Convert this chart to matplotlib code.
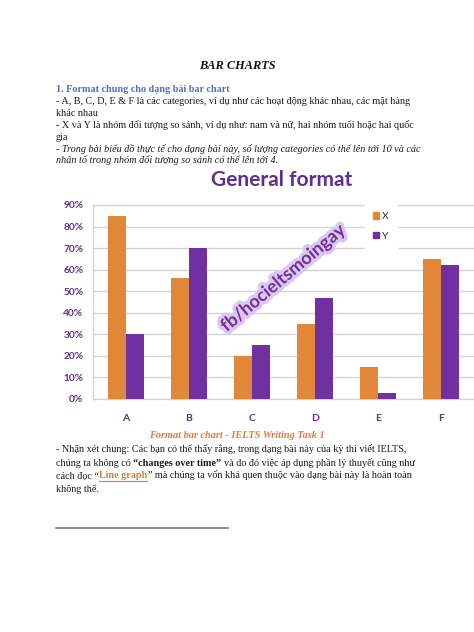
import matplotlib
matplotlib.use("Agg")
import matplotlib.pyplot as plt
import matplotlib.patheffects as pe
from matplotlib.lines import Line2D
from matplotlib.patches import Patch
import numpy as np

categories = ["A", "B", "C", "D", "E", "F"]
x_values = [85, 56, 20, 35, 15, 65]
y_values = [30, 70, 25, 47, 3, 62]
series_names = ["X", "Y"]
y_ticks = [0, 10, 20, 30, 40, 50, 60, 70, 80, 90]

W, H = 474, 632
fig = plt.figure(figsize=(W / 100, H / 100), dpi=100)
fig.patch.set_facecolor("white")

ORANGE = "#E0873A"
PURPLE = "#7030A0"
TXT_PURPLE = "#5E2F92"
SERIF = ["Liberation Serif", "DejaVu Serif"]
SANS = ["Lato", "DejaVu Sans"]
FS = 7.25


def fx(px):
    return px / W


def fy(py):
    return 1 - py / H


# ---- chart ----
ax = fig.add_axes([fx(93), fy(399), fx(474) - fx(93), fy(205) - fy(399)])
idx = np.arange(len(categories))
bw = 0.286
ax.bar(idx - bw / 2, x_values, bw, color=ORANGE, zorder=3, label=series_names[0])
ax.bar(idx + bw / 2, y_values, bw, color=PURPLE, zorder=3, label=series_names[1])
ax.set_xlim(-0.52, 5.52)
ax.set_ylim(0, 90)
ax.set_yticks(y_ticks)
ax.set_yticklabels([f"{v}%" for v in y_ticks])
ax.set_xticks(idx)
ax.set_xticklabels(categories)
ax.grid(axis="y", color="#D4D4D4", linewidth=1.0, zorder=0)
ax.spines["right"].set_visible(False)
for s in ["left", "bottom", "top"]:
    ax.spines[s].set_color("#D4D4D4")
    ax.spines[s].set_linewidth(1.0)
ax.tick_params(axis="both", length=0)
ax.tick_params(axis="y", pad=7)
ax.tick_params(axis="x", pad=11)
for lab in ax.get_yticklabels():
    lab.set_fontfamily(SANS)
    lab.set_fontweight("bold")
    lab.set_fontsize(7.3)
    lab.set_color(TXT_PURPLE)
for lab in ax.get_xticklabels():
    lab.set_fontfamily(SANS)
    lab.set_fontweight("bold")
    lab.set_fontsize(7.5)
    lab.set_color(TXT_PURPLE)

handles = [Patch(color=ORANGE), Patch(color=PURPLE)]
leg = ax.legend(handles, series_names, loc="center", bbox_to_anchor=(0.755, 0.89),
                frameon=True, fancybox=False, edgecolor="white", facecolor="white",
                framealpha=1, handlelength=0.55, handleheight=0.55, handletextpad=0.3,
                labelspacing=1.0, borderpad=0.8, prop={"family": SANS, "size": 7.5})
for t in leg.get_texts():
    t.set_color("#2A2A2A")

fig.text(fx(282), fy(180), "General format", family=SANS, fontweight="bold",
         fontsize=15, color=TXT_PURPLE, ha="center", va="center")

fig.text(fx(283), fy(278), "fb/hocieltsmoingay", family=SANS, fontweight="bold",
         fontsize=13, color=PURPLE, ha="center", va="center", rotation=40,
         rotation_mode="anchor", zorder=10,
         path_effects=[pe.withStroke(linewidth=5, foreground="#DCC8EE")])

# ---- document text ----
fig.canvas.draw()
renderer = fig.canvas.get_renderer()

BODY = dict(family=SERIF, fontsize=FS, color="#1A1A1A")
IT = dict(BODY, style="italic")
BOLD = dict(BODY, fontweight="bold")

fig.text(fx(237), fy(69), "BAR CHARTS", family=SERIF, fontweight="bold", style="italic",
         fontsize=8.9, color="#111111", ha="center", va="baseline")
fig.text(fx(56), fy(92), "1. Format chung cho dạng bài bar chart", family=SERIF,
         fontweight="bold", fontsize=FS, color="#4A6FD0", ha="left", va="baseline")

lines_top = [
    ("- A, B, C, D, E & F là các categories, ví dụ như các hoạt động khác nhau, các mặt hàng", BODY, 104),
    ("khác nhau", BODY, 115.8),
    ("- X và Y là nhóm đối tượng so sánh, ví dụ như: nam và nữ, hai nhóm tuổi hoặc hai quốc", BODY, 127.8),
    ("gia", BODY, 139.6),
    ("- Trong bài biểu đồ thực tế cho dạng bài này, số lượng categories có thể lên tới 10 và các", IT, 151.5),
    ("nhân tố trong nhóm đối tượng so sánh có thể lên tới 4.", IT, 163.3),
]
for s, kw, y in lines_top:
    fig.text(fx(56), fy(y), s, ha="left", va="baseline", **kw)

fig.text(fx(237), fy(438.5), "Format bar chart - IELTS Writing Task 1", family=SERIF,
         fontweight="bold", style="italic", fontsize=7.4, color="#E07B39",
         ha="center", va="baseline")

fig.text(fx(56), fy(452.5),
         "- Nhận xét chung: Các bạn có thể thấy rằng, trong dạng bài này của kỳ thi viết IELTS,",
         ha="left", va="baseline", **BODY)

# line 2 with bold run
t1 = fig.text(fx(56), fy(465.5), "chúng ta không có", ha="left", va="baseline", **BODY)
bb = t1.get_window_extent(renderer)
t2 = fig.text(bb.x1 / W + 2.4 / W, fy(465.5), "\u201cchanges over time\u201d", ha="left",
              va="baseline", **BOLD)
bb = t2.get_window_extent(renderer)
fig.text(bb.x1 / W + 2.4 / W, fy(465.5),
         "và do đó việc áp dụng phần lý thuyết cũng như", ha="left", va="baseline", **BODY)

# line 3 with underlined orange run
t1 = fig.text(fx(56), fy(478.5), "cách đọc \u201c", ha="left", va="baseline", **BODY)
bb = t1.get_window_extent(renderer)
t2 = fig.text(bb.x1 / W + 0.3 / W, fy(478.5), "Line graph", ha="left", va="baseline",
              family=SERIF, fontsize=FS, fontweight="bold", color="#E07B39")
bb2 = t2.get_window_extent(renderer)
fig.add_artist(Line2D([bb2.x0 / W, bb2.x1 / W], [fy(480.5), fy(480.5)],
                      color="#E07B39", linewidth=0.8))
fig.text(bb2.x1 / W + 0.3 / W, fy(478.5),
         "\u201d mà chúng ta vốn khá quen thuộc vào dạng bài này là hoàn toàn",
         ha="left", va="baseline", **BODY)

fig.text(fx(56), fy(492), "không thể.", ha="left", va="baseline", **BODY)

fig.add_artist(Line2D([fx(56), fx(228)], [fy(528), fy(528)], color="#777777",
                      linewidth=1.2))

fig.savefig("out.png", dpi=100, facecolor="white")
